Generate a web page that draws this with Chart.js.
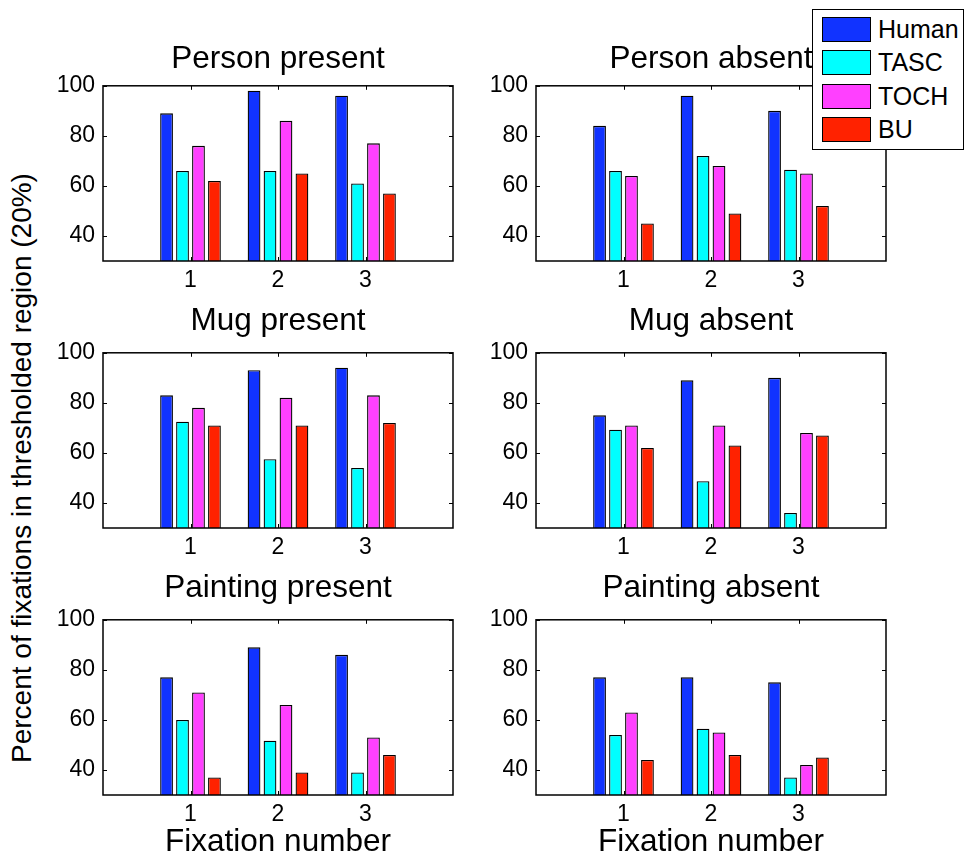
<!DOCTYPE html>
<html>
<head>
<meta charset="utf-8">
<script src="https://cdn.jsdelivr.net/npm/chart.js@4/dist/chart.umd.min.js"></script>
<style>
  html, body { margin: 0; padding: 0; background: #fff; }
  body { width: 966px; height: 861px; position: relative; overflow: hidden;
         font-family: "Liberation Sans", Arial, Helvetica, sans-serif; color: #000; }
  canvas { position: absolute; }
  #ylabel { position: absolute; width: 700px; height: 28px; line-height: 28px; font-size: 28px;
            text-align: center; white-space: nowrap; transform: rotate(-90deg); transform-origin: 50% 50%; }
  #legend { position: absolute; left: 812px; top: 9px; width: 150px; height: 139px;
            border: 1.5px solid #000; background: #fff; z-index: 5; }
  .item { position: absolute; left: 9px; height: 25px; }
  .swatch { position: absolute; left: 0; top: 0; width: 47px; height: 23px; border: 1px solid #000; }
  .name { position: absolute; left: 56px; top: 0; height: 25px; line-height: 25px; font-size: 25px; white-space: nowrap; }
</style>
</head>
<body>
<div id="ylabel"></div>
<div id="legend"></div>
<canvas id="p0"></canvas>
<canvas id="p1"></canvas>
<canvas id="p2"></canvas>
<canvas id="p3"></canvas>
<canvas id="p4"></canvas>
<canvas id="p5"></canvas>
<script>
// Fixation numbers along the x axis of every panel
const fixationNumbers = [1, 2, 3];
const seriesNames = ['Human', 'TASC', 'TOCH', 'BU'];
const seriesColors = ['#1133ff', '#00ffff', '#ff40ff', '#ff2200'];
const yTickValues = [40, 60, 80, 100];

const panelTitles = ['Person present', 'Person absent', 'Mug present', 'Mug absent',
                     'Painting present', 'Painting absent'];

// Percent of fixations per series (rows: Human, TASC, TOCH, BU), one array per panel
const personPresent   = [[89, 98, 96], [66, 66, 61], [76, 86, 77], [62, 65, 57]];
const personAbsent    = [[84, 96, 90], [66, 72, 66.5], [64, 68, 65], [45, 49, 52]];
const mugPresent      = [[83, 93, 94], [72.5, 57.5, 54], [78, 82, 83], [71, 71, 72]];
const mugAbsent       = [[75, 89, 90], [69.3, 48.7, 36], [71, 71, 68], [62, 63, 67]];
const paintingPresent = [[77, 89, 86], [60, 51.7, 39], [71, 66, 53], [37, 39, 46]];
const paintingAbsent  = [[77, 77, 75], [54, 56.5, 37], [63, 55, 42], [44, 46, 45]];

const yAxisTitle = 'Percent of fixations in thresholded region (20%)';
const xAxisTitle = 'Fixation number';

const FONT = '"Liberation Sans", Arial, Helvetica, sans-serif';
Chart.defaults.font.family = FONT;
Chart.defaults.color = '#000';

// Box around each axes with inward tick marks on all four sides
const axesFrame = {
  id: 'axesFrame',
  afterDatasetsDraw(chart) {
    const { ctx, chartArea: a, scales: { x, y } } = chart;
    ctx.save();
    ctx.strokeStyle = '#000';
    ctx.lineWidth = 1.5;
    ctx.strokeRect(a.left, a.top, a.right - a.left, a.bottom - a.top);
    const len = 4;
    ctx.beginPath();
    x.ticks.forEach(t => {
      const px = Math.round(x.getPixelForValue(t.value)) + 0.5;
      ctx.moveTo(px, a.top); ctx.lineTo(px, a.top + len);
      ctx.moveTo(px, a.bottom); ctx.lineTo(px, a.bottom - len);
    });
    y.ticks.forEach(t => {
      const py = Math.round(y.getPixelForValue(t.value)) + 0.5;
      ctx.moveTo(a.left, py); ctx.lineTo(a.left + len, py);
      ctx.moveTo(a.right, py); ctx.lineTo(a.right - len, py);
    });
    ctx.lineWidth = 1;
    ctx.stroke();
    ctx.restore();
  }
};

const PLOT_W = 350, PLOT_H = 175, Y_AXIS_W = 60;

function makePanel(id, title, values, left, plotTop, titleGap, isBottomRow) {
  const titleBox = 38 + titleGap;
  const xAxisH = isBottomRow ? 66 : 40;
  const canvas = document.getElementById(id);
  canvas.width = Y_AXIS_W + PLOT_W + 2;
  canvas.height = titleBox + PLOT_H + xAxisH;
  canvas.style.left = (left - Y_AXIS_W) + 'px';
  canvas.style.top = (plotTop - titleBox) + 'px';

  new Chart(canvas, {
    type: 'bar',
    data: {
      datasets: seriesNames.map((name, s) => ({
        label: name,
        data: fixationNumbers.map((f, i) => ({ x: f, y: values[s][i] })),
        backgroundColor: seriesColors[s],
        borderColor: '#000',
        borderWidth: 1.3,
        borderSkipped: 'start',
        categoryPercentage: 0.73,
        barPercentage: 0.8
      }))
    },
    options: {
      responsive: false,
      animation: false,
      devicePixelRatio: 1,
      layout: { padding: { top: 0, right: 2, bottom: 0, left: 0 } },
      plugins: {
        legend: { display: false },
        tooltip: { enabled: false },
        title: {
          display: true, text: title, color: '#000', fullSize: false,
          font: { size: 31.5, weight: 'normal', family: FONT },
          padding: { top: 0, bottom: titleGap }
        }
      },
      scales: {
        x: {
          type: 'linear', min: 0, max: 4, offset: false,
          afterBuildTicks: s => { s.ticks = fixationNumbers.map(v => ({ value: v })); },
          afterFit: s => { s.height = xAxisH; },
          grid: { display: false, drawTicks: false, offset: false },
          border: { display: false },
          ticks: { font: { size: 23 }, color: '#000', padding: 6, maxRotation: 0 },
          title: {
            display: isBottomRow, text: xAxisTitle, color: '#000',
            font: { size: 31.5, family: FONT }, padding: 0
          }
        },
        y: {
          min: 30, max: 100,
          afterBuildTicks: s => { s.ticks = yTickValues.map(v => ({ value: v })); },
          afterFit: s => { s.width = Y_AXIS_W; },
          grid: { display: false, drawTicks: false },
          border: { display: false },
          ticks: { font: { size: 23 }, color: '#000', padding: 8 }
        }
      }
    },
    plugins: [axesFrame]
  });
}

const panelData = [personPresent, personAbsent, mugPresent, mugAbsent, paintingPresent, paintingAbsent];
const colLefts = [103, 536];
const rowTops = [86, 353, 620];
const rowTitleGaps = [8, 13, 13];
panelData.forEach((vals, k) => {
  const r = Math.floor(k / 2), c = k % 2;
  makePanel('p' + k, panelTitles[k], vals, colLefts[c], rowTops[r], rowTitleGaps[r], r === 2);
});

// Shared vertical axis label
const yl = document.getElementById('ylabel');
yl.textContent = yAxisTitle;
yl.style.left = (22 - 350) + 'px';
yl.style.top = (468 - 14) + 'px';

// Legend built from the series names and colours
const legend = document.getElementById('legend');
seriesNames.forEach((name, s) => {
  const item = document.createElement('div');
  item.className = 'item';
  item.style.top = (7 + s * 33.3) + 'px';
  const sw = document.createElement('div');
  sw.className = 'swatch';
  sw.style.background = seriesColors[s];
  const tx = document.createElement('div');
  tx.className = 'name';
  tx.textContent = name;
  item.appendChild(sw);
  item.appendChild(tx);
  legend.appendChild(item);
});
</script>
</body>
</html>
